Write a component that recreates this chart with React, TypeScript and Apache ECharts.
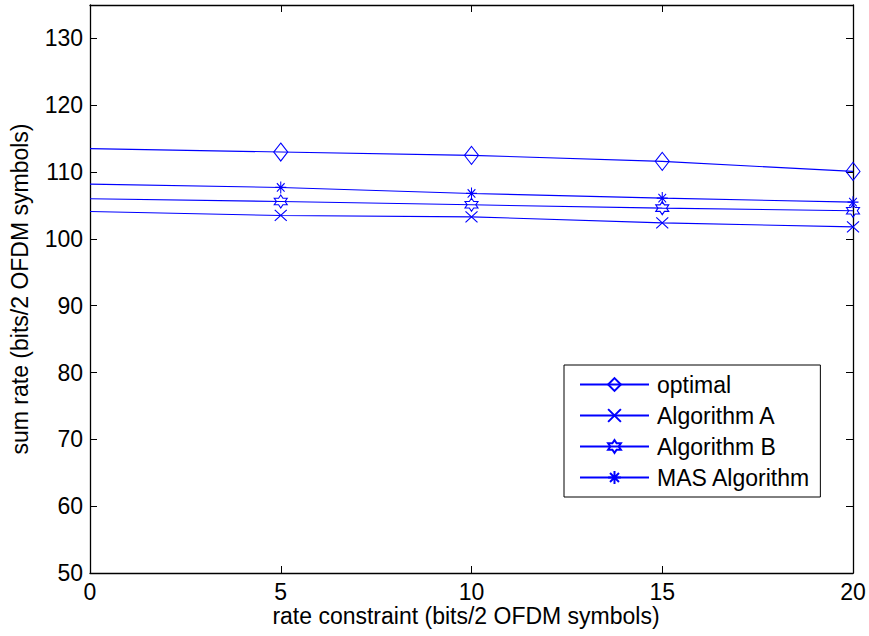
import React, { useEffect, useRef } from "react";
import * as echarts from "echarts";

const xValues = [0, 5, 10, 15, 20];
const optimal = [113.5, 113.0, 112.5, 111.6, 110.1];
const algorithmA = [104.1, 103.5, 103.3, 102.4, 101.8];
const algorithmB = [106.0, 105.6, 105.1, 104.6, 104.2];
const masAlgorithm = [108.2, 107.7, 106.8, 106.1, 105.5];
const seriesNames = ["optimal", "Algorithm A", "Algorithm B", "MAS Algorithm"];
const xTitle = "rate constraint (bits/2 OFDM symbols)";
const yTitle = "sum rate (bits/2 OFDM symbols)";

const BLUE = "#0000ff";
const FONT = "'Liberation Sans', Arial, Helvetica, sans-serif";

const SYM_DIAMOND = "path://M5 0 L10 6.5 L5 13 L0 6.5 Z";
const SYM_X = "path://M0 0 L10 10 M10 0 L0 10";
const SYM_HEX =
  "path://M10 0 L12.89 5 L18.66 5 L15.77 10 L18.66 15 L12.89 15 L10 20 L7.11 15 L1.34 15 L4.23 10 L1.34 5 L7.11 5 Z";
const SYM_AST = "path://M5 0 L5 10 M0 5 L10 5 M1.5 1.5 L8.5 8.5 M8.5 1.5 L1.5 8.5";

export default function App() {
  const ref = useRef<HTMLDivElement>(null);
  useEffect(() => {
    if (!ref.current) return;
    const chart = echarts.init(ref.current, undefined, { renderer: "svg" });
    const mk = (name: string, vals: number[], symbol: string, size: number[]) => ({
      name,
      type: "line",
      xAxisIndex: 0,
      yAxisIndex: 0,
      data: xValues.map((x, i) =>
        i === 0 ? { value: [x, vals[i]], symbol: "none" } : { value: [x, vals[i]] }
      ),
      symbol,
      symbolSize: size,
      showAllSymbol: true,
      lineStyle: { color: BLUE, width: 1.1 },
      itemStyle: { color: "none", borderColor: BLUE, borderWidth: 1.1 },
      emphasis: { disabled: true },
      z: 3,
    });
    const axisCommon = {
      type: "value" as const,
      splitLine: { show: false },
      axisLine: { show: true, onZero: false, lineStyle: { color: "#000", width: 1.3 } },
      axisTick: { show: true, inside: true, length: 7, lineStyle: { color: "#000", width: 1 } },
    };
    chart.setOption({
      animation: false,
      backgroundColor: "#fff",
      grid: { left: 90, right: 16, top: 5, bottom: 63, containLabel: false },
      xAxis: [
        {
          ...axisCommon,
          position: "bottom",
          min: 0,
          max: 20,
          interval: 5,
          axisLabel: { color: "#000", fontSize: 23, fontFamily: FONT, margin: 7 },
        },
        {
          ...axisCommon,
          position: "top",
          min: 0,
          max: 20,
          interval: 5,
          axisLabel: { show: false },
        },
      ],
      yAxis: [
        {
          ...axisCommon,
          position: "left",
          min: 50,
          max: 135,
          interval: 10,
          axisLabel: {
            color: "#000",
            fontSize: 23,
            fontFamily: FONT,
            margin: 7,
            showMaxLabel: false,
          },
        },
        {
          ...axisCommon,
          position: "right",
          min: 50,
          max: 135,
          interval: 10,
          axisLabel: { show: false },
        },
      ],
      legend: {
        orient: "vertical",
        left: 564,
        top: 365,
        padding: [8, 10, 8, 15],
        itemWidth: 69,
        itemHeight: 16,
        itemGap: 8,
        borderColor: "#000",
        borderWidth: 1,
        backgroundColor: "#fff",
        selectedMode: false,
        data: seriesNames,
        textStyle: { color: "#000", fontSize: 23, fontFamily: FONT, lineHeight: 23, padding: [0, 0, 0, 3] },
      },
      series: [
        mk(seriesNames[0], optimal, SYM_DIAMOND, [14, 18]),
        mk(seriesNames[1], algorithmA, SYM_X, [12, 11]),
        mk(seriesNames[2], algorithmB, SYM_HEX, [13, 13]),
        mk(seriesNames[3], masAlgorithm, SYM_AST, [11, 12]),
      ],
      graphic: [
        {
          type: "text",
          x: 466,
          y: 616,
          style: {
            text: xTitle,
            fill: "#000",
            fontSize: 23,
            fontFamily: FONT,
            align: "center",
            verticalAlign: "middle",
          },
        },
        {
          type: "text",
          x: 20,
          y: 289,
          rotation: Math.PI / 2,
          style: {
            text: yTitle,
            fill: "#000",
            fontSize: 23,
            fontFamily: FONT,
            align: "center",
            verticalAlign: "middle",
          },
        },
      ],
    });
    return () => chart.dispose();
  }, []);
  return (
    <div
      ref={ref}
      style={{ position: "fixed", left: 0, top: 0, width: 869, height: 636 }}
    />
  );
}
